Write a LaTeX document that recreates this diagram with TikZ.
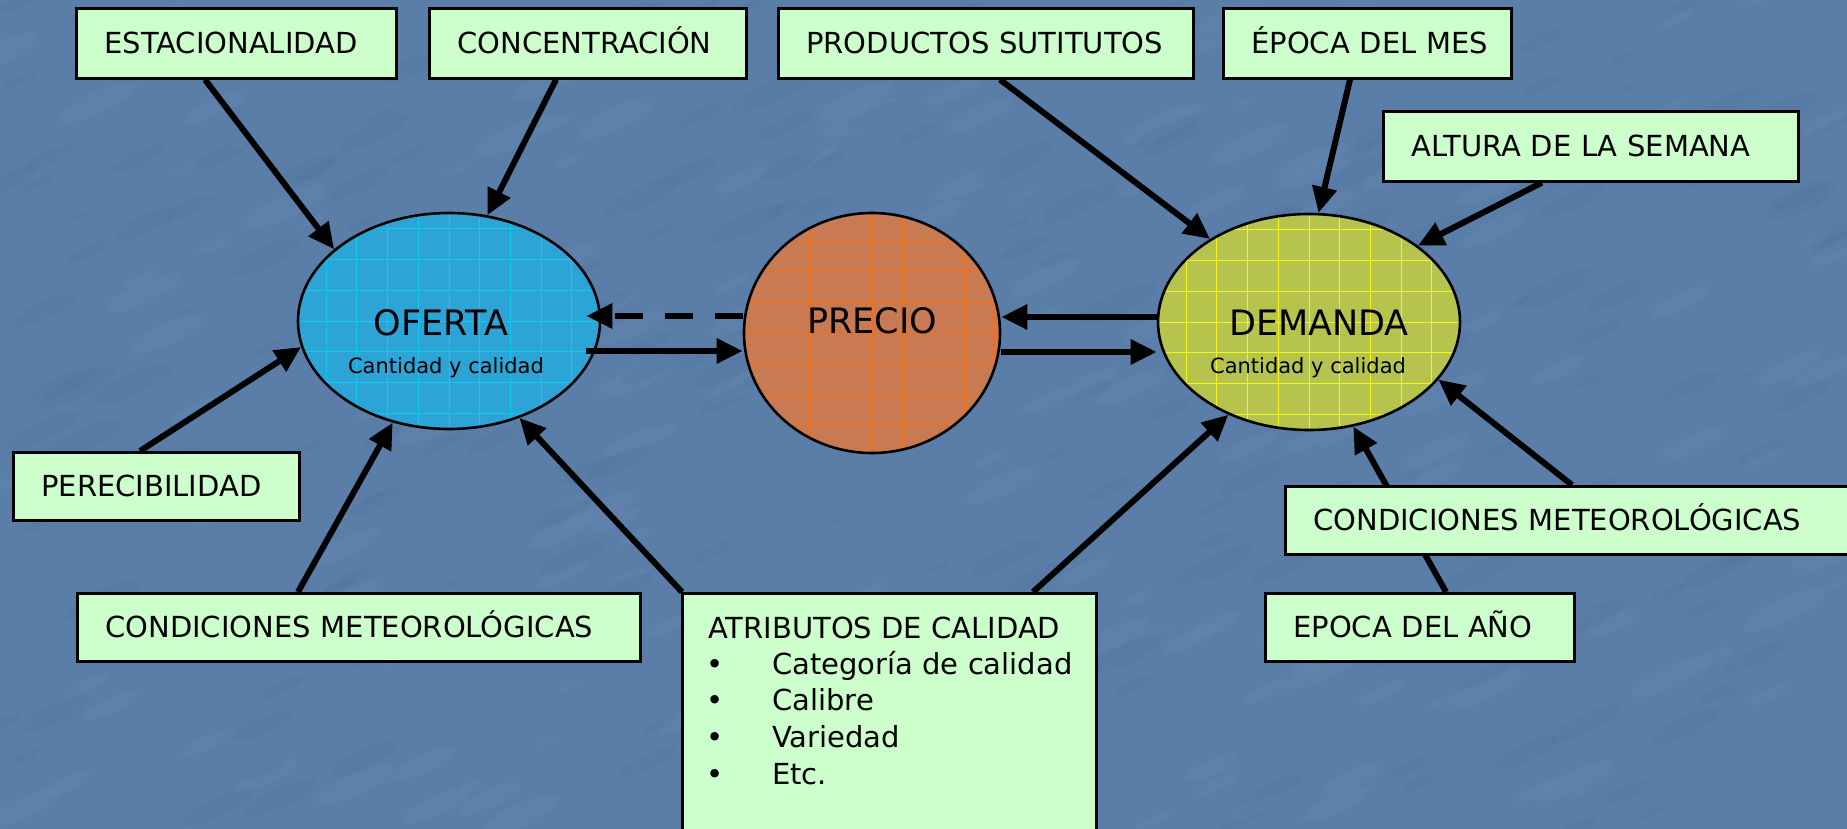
\documentclass[tikz,border=0pt]{standalone}
\usepackage{fontspec}
\setmainfont{DejaVu Sans}
\usetikzlibrary{shapes.geometric,arrows.meta,calc}
\definecolor{bgblue}{RGB}{90,126,168}
\definecolor{boxgreen}{RGB}{204,255,204}
\definecolor{ofill}{RGB}{44,164,214}
\definecolor{ogrid}{RGB}{20,200,240}
\definecolor{pfill}{RGB}{200,122,82}
\definecolor{pgridc}{RGB}{245,110,20}
\definecolor{dfill}{RGB}{182,196,78}
\definecolor{dgrid}{RGB}{245,245,30}
\pgfdeclarelayer{bglayer}
\pgfdeclarelayer{midlayer}
\pgfsetlayers{bglayer,midlayer,main}
\begin{document}
\begin{tikzpicture}[x=1pt,y=1pt,
  ell/.style={ellipse, draw=black, line width=2.6pt, inner sep=0pt, fill=#1},
  gridded/.style={path picture={\draw[#1, line width=1pt] (path picture bounding box.south west) grid[step=30.7pt] (path picture bounding box.north east);}},
  arr/.style={line width=6pt, -{Triangle[length=26pt,width=24pt]}},
  box/.style={rectangle, draw=black, line width=2.6pt, fill=boxgreen, anchor=north west,
    inner xsep=28pt, inner ysep=0pt, text height=21pt, text depth=0pt, align=left,
    font=\fontsize{29}{35}\selectfont},
  big/.style={font=\fontsize{35}{40}\selectfont, inner sep=0pt, anchor=base},
  small/.style={font=\fontsize{21}{25}\selectfont, inner sep=0pt, anchor=base},
  listtxt/.style={font=\fontsize{29}{35}\selectfont, inner sep=0pt},
  streak/.style={opacity=0.025}
]
\useasboundingbox (0,0) rectangle (1847,-829);

% ---------- background and ellipses ----------
\begin{pgfonlayer}{bglayer}
\clip (0,0) rectangle (1847,-829);
\fill[bgblue] (0,0) rectangle (1847,-829);
\pgfmathsetseed{11}
\foreach \k in {1,...,400}{
  \pgfmathsetmacro\xx{rnd*1847}
  \pgfmathsetmacro\yy{-rnd*829}
  \pgfmathsetmacro\rr{10+rnd*35}
  \pgfmathsetmacro\cc{rnd>0.5 ? 1 : 0}
  \ifdim\cc pt>0.5pt
    \fill[white, streak, rotate around={25:(\xx,\yy)}] (\xx,\yy) ellipse ({\rr} and {\rr*0.25});
  \else
    \fill[black, streak, rotate around={25:(\xx,\yy)}] (\xx,\yy) ellipse ({\rr} and {\rr*0.25});
  \fi
}
\node[ell=ofill, gridded=ogrid, minimum width=302pt, minimum height=216pt] (oferta) at (449,-321) {};
\node[ell=pfill, gridded=pgridc, minimum width=256pt, minimum height=240pt] (precio) at (872,-333) {};
\node[ell=dfill, gridded=dgrid, minimum width=302pt, minimum height=216pt] (demanda) at (1309,-322) {};

\node[big] (ofertaT) at (441,-335) {OFERTA};
\node[small] (ofertaS) at (446,-373) {Cantidad y calidad};
\node[big] (precioT) at (872,-333) {PRECIO};
\node[big] (demandaT) at (1319,-335) {DEMANDA};
\node[small] (demandaS) at (1308,-373) {Cantidad y calidad};
\end{pgfonlayer}

% ---------- boxes ----------
\begin{scope}
\clip (0,0) rectangle (1847,-829);
\node[box, text width=264pt, minimum height=70pt] (estac) at (75,-7) {\mbox{ESTACIONALIDAD}};
\node[box, text width=261pt, minimum height=70pt] (conc) at (428,-7) {\mbox{CONCENTRACIÓN}};
\node[box, text width=359pt, minimum height=70pt] (prod) at (777,-7) {\mbox{PRODUCTOS SUTITUTOS}};
\node[box, text width=232pt, minimum height=70pt] (epmes) at (1222,-7) {\mbox{ÉPOCA DEL MES}};
\node[box, text width=359pt, minimum height=70pt] (altura) at (1382,-110) {\mbox{ALTURA DE LA SEMANA}};
\node[box, text width=230pt, minimum height=68pt] (perec) at (12,-451) {\mbox{PERECIBILIDAD}};
\node[box, text width=507pt, minimum height=68pt] (condL) at (76,-592) {\mbox{CONDICIONES METEOROLÓGICAS}};
\node[box, text width=544pt, minimum height=68pt] (condR) at (1284,-485) {\mbox{CONDICIONES METEOROLÓGICAS}};
\node[box, text width=253pt, minimum height=68pt] (epano) at (1264,-592) {\mbox{EPOCA DEL AÑO}};
\node[box, text width=358pt, minimum height=250pt] (atrib) at (681,-592) {};

\node[listtxt, anchor=base west] (atribT) at (708,-638) {ATRIBUTOS DE CALIDAD};
\foreach \t [count=\i] in {Categoría de calidad, Calibre, Variedad, Etc.} {
  \node[listtxt, anchor=base] (bul\i) at (715,{-674-36.7*(\i-1)}) {•};
  \node[listtxt, anchor=base west] (item\i) at (772,{-674-36.7*(\i-1)}) {\t};
}
\end{scope}

% ---------- arrows (between ellipses and boxes) ----------
\begin{pgfonlayer}{midlayer}
\draw[arr] ([xshift=130pt]estac.south west) -- (oferta.148);
\draw[arr] ([xshift=128pt]conc.south west) -- (oferta.70);
\draw[arr] ([xshift=128pt]perec.north west) -- (oferta.190);
\draw[arr] ([xshift=222pt]condL.north west) -- (oferta.241);
\draw[arr] ([xshift=1pt]atrib.north west) -- (oferta.306);
\draw[arr] ([xshift=352pt]atrib.north west) -- (demanda.229);
\draw[arr] ([xshift=223pt]prod.south west) -- (demanda.140);
\draw[arr] ([xshift=128pt]epmes.south west) -- (demanda.85);
\draw[arr] ([xshift=160pt]altura.south west) -- (demanda.35);
\draw[arr] ([xshift=288pt]condR.north west) -- (demanda.336);
\draw[arr] ([xshift=182pt]epano.north west) -- (demanda.293);

\draw[arr, dash pattern=on 28pt off 22pt, shorten >=-15pt] ([yshift=17pt]precio.west) -- ([yshift=5pt]oferta.east);
\draw[arr] ([xshift=-15pt,yshift=-30pt]oferta.east) -- ([yshift=-18pt]precio.west);
\draw[arr] ([yshift=5pt]demanda.west) -- ([yshift=16pt]precio.east);
\draw[arr] ([yshift=-19pt]precio.east) -- ([yshift=-30pt]demanda.west);
\end{pgfonlayer}
\end{tikzpicture}
\end{document}
